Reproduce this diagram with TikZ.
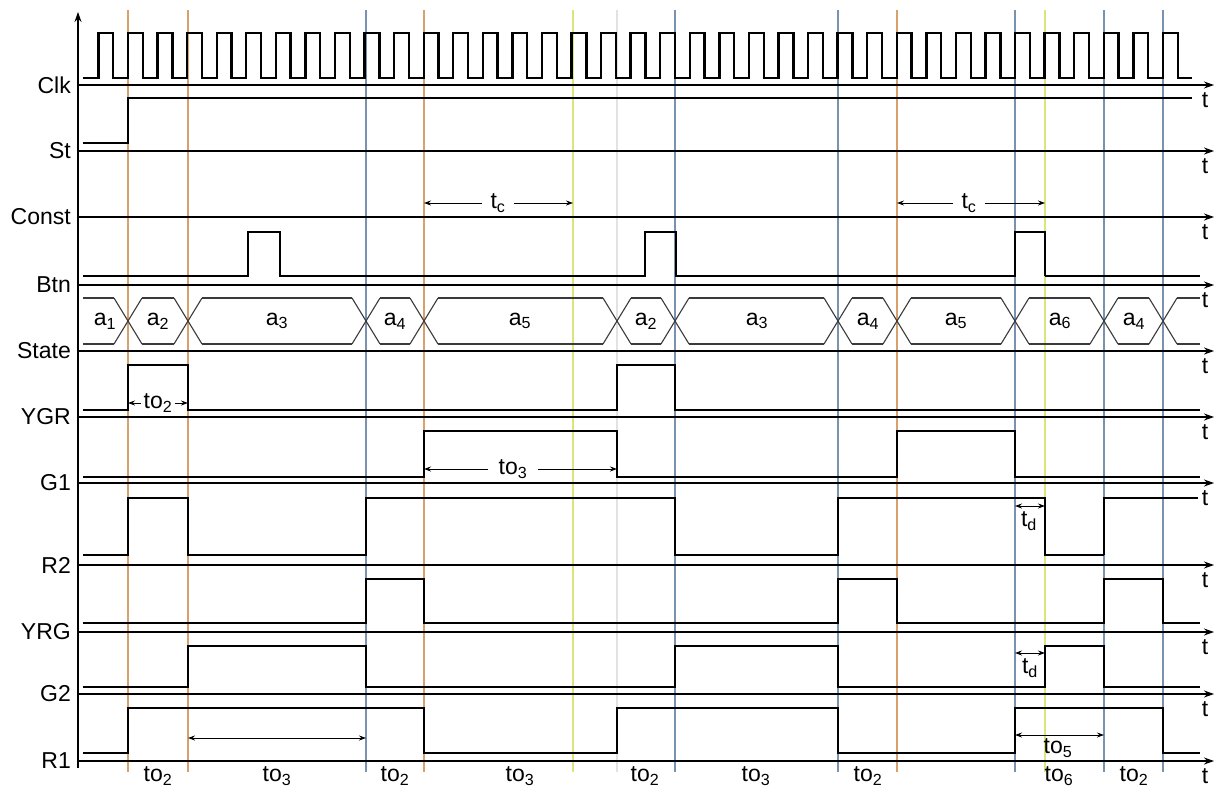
\documentclass[tikz,border=0pt]{standalone}
\usepackage{fontspec}
\setmainfont{Liberation Sans}
\usepackage{xcolor}
\usetikzlibrary{arrows.meta}
\definecolor{marktan}{HTML}{D8A06A}
\definecolor{markblue}{HTML}{7892B0}
\definecolor{markyellow}{HTML}{DCE57A}
\definecolor{markgray}{HTML}{E2E2E2}
\definecolor{busgray}{HTML}{3A3A3A}
\tikzset{
  sig/.style={line width=2.4pt, line join=miter},
  thinsig/.style={line width=1.3pt, line join=miter},
  bus/.style={busgray, line width=1.1pt},
  axis/.style={line width=1.1pt, -{Stealth[length=10pt, width=7pt]}},
  dim/.style={line width=0.9pt, -{Stealth[length=7pt, width=5pt]}},
  dimboth/.style={line width=0.9pt, {Stealth[length=7pt, width=5pt]}-{Stealth[length=7pt, width=5pt]}},
  txt/.style={font=\fontsize{23}{27}\selectfont, inner sep=0pt},
  sname/.style={txt, anchor=east},
}

\begin{document}
\begin{tikzpicture}[x=1pt, y=-1pt]
  \useasboundingbox (0,0) rectangle (1224,787);
  % time markers
  \foreach \x/\c in {128/marktan, 188/marktan, 366/markblue, 424/marktan, 573/markyellow,
                     617/markgray, 675/markblue, 838/markblue, 897/marktan, 1015/markblue,
                     1045/markyellow, 1104/markblue, 1163/markblue}
    \draw[\c, line width=1.1pt] (\x,10) -- (\x,772);
  % axes
  \draw[axis] (78,768) -- (78,12);
  \foreach \y/\name/\id in {85/Clk/clk, 151/St/st, 217/Const/const, 285/Btn/btn, 351/State/state,
                            417/YGR/ygr, 483/G1/ga, 565/R2/rb, 632/YRG/yrg, 694/G2/gb, 761/R1/ra} {
    \draw[axis] (78,\y) -- (1214,\y);
    \node[sname] (l\id) at (71,\y) {\name};
    \node[txt] (t\id) at (1205,\y+15) {t};
  }
  % Clk
  \draw[sig] (83,78) \foreach \k in {-1,...,35} {
      -- ({128+\k*29.57},78) -- ({128+\k*29.57},33) -- ({142.8+\k*29.57},33) -- ({142.8+\k*29.57},78)
    } -- (1192,78);
  % St
  \draw[sig] (83,143) -- (128,143) -- (128,98) -- (1192,98);
  % Const
  \coordinate (tca) at (424,203);
  \coordinate (tcb) at (573,203);
  \node[txt] (tc1) at (498,203) {t\textsubscript{c}};
  \draw[dim] ([xshift=-8pt]tc1.west) -- (tca);
  \draw[dim] ([xshift=8pt]tc1.east) -- (tcb);
  \coordinate (tcc) at (897,203);
  \coordinate (tcd) at (1045,203);
  \node[txt] (tc2) at (969,203) {t\textsubscript{c}};
  \draw[dim] ([xshift=-8pt]tc2.west) -- (tcc);
  \draw[dim] ([xshift=8pt]tc2.east) -- (tcd);
  % Btn
  \draw[thinsig] (83,276) -- (248,276) -- (248,232) -- (280,232) -- (280,276) -- (645,276)
    -- (645,232) -- (676,232) -- (676,276) -- (1015,276) -- (1015,232) -- (1045,232) -- (1045,276);
  \draw[sig] (280,276) -- (373,276);
  \draw[sig] (1045,276) -- (1200,276);
  % State
  \foreach \t in {128,188,366,424,617,675,838,897,1015,1104,1163}
    \draw[bus] (\t-14,298) -- (\t+14,344) (\t-14,344) -- (\t+14,298);
  \draw[bus] (83,298) -- (114,298) (83,344) -- (114,344);
  \draw[bus] (1177,298) -- (1200,298) (1177,344) -- (1200,344);
  \foreach \a/\b/\s in {128/188/2, 188/366/3, 366/424/4, 424/617/5, 617/675/2,
                        675/838/3, 838/897/4, 897/1015/5, 1015/1104/6, 1104/1163/4}
    \draw[bus] (\a+14,298) -- (\b-14,298) (\a+14,344) -- (\b-14,344);
  \foreach \x/\s/\id in {105/1/sa, 158/2/sb, 277/3/sc, 395/4/sd, 520/5/se, 646/2/sf,
                         757/3/sg, 868/4/sh, 956/5/si, 1060/6/sj, 1134/4/sk}
    \node[txt] (\id) at (\x,321) {a\textsubscript{\s}};
  % YGR
  \draw[sig] (83,410) -- (128,410) -- (128,365) -- (188,365) -- (188,410) -- (617,410)
    -- (617,365) -- (675,365) -- (675,410) -- (1200,410);
  \coordinate (yga) at (128,403);
  \coordinate (ygb) at (188,403);
  \node[txt] (to2y) at (158,403) {to\textsubscript{2}};
  \draw[dim] ([xshift=-2pt]to2y.west) -- (yga);
  \draw[dim] ([xshift=2pt]to2y.east) -- (ygb);
  % G1
  \draw[sig] (83,477) -- (424,477) -- (424,431) -- (617,431) -- (617,477) -- (897,477)
    -- (897,431) -- (1015,431) -- (1015,477) -- (1200,477);
  \coordinate (gaa) at (424,469);
  \coordinate (gab) at (617,469);
  \node[txt] (to3g) at (513,469) {to\textsubscript{3}};
  \draw[dim] ([xshift=-10pt]to3g.west) -- (gaa);
  \draw[dim] ([xshift=10pt]to3g.east) -- (gab);
  % R2
  \draw[sig] (83,555) -- (128,555) -- (128,498) -- (188,498) -- (188,555) -- (366,555)
    -- (366,498) -- (675,498) -- (675,555) -- (838,555) -- (838,498) -- (1045,498)
    -- (1045,555) -- (1104,555);
  \draw[thinsig] (1104,555) -- (1104,498) -- (1198,498);
  \coordinate (rba) at (1015,506);
  \coordinate (rbb) at (1045,506);
  \draw[dimboth] (rba) -- (rbb);
  \node[txt] (tdr) at (1029,521) {t\textsubscript{d}};
  % YRG
  \draw[sig] (83,623) -- (366,623) -- (366,579) -- (424,579) -- (424,623) -- (838,623)
    -- (838,579) -- (897,579) -- (897,623) -- (1104,623) -- (1104,579) -- (1163,579)
    -- (1163,623) -- (1200,623);
  % G2
  \draw[sig] (83,687) -- (188,687) -- (188,646) -- (366,646) -- (366,687) -- (675,687)
    -- (675,646) -- (838,646) -- (838,687) -- (1045,687) -- (1045,646) -- (1104,646)
    -- (1104,687) -- (1200,687);
  \coordinate (gba) at (1015,653);
  \coordinate (gbb) at (1045,653);
  \draw[dimboth] (gba) -- (gbb);
  \node[txt] (tdg) at (1030,668) {t\textsubscript{d}};
  % R1
  \draw[sig] (83,753) -- (128,753) -- (128,708) -- (424,708) -- (424,753) -- (617,753)
    -- (617,708) -- (838,708) -- (838,753) -- (1015,753) -- (1015,708) -- (1163,708)
    -- (1163,753) -- (1200,753);
  \coordinate (raa) at (188,738);
  \coordinate (rab) at (366,738);
  \draw[dimboth] (raa) -- (rab);
  \coordinate (rac) at (1015,735);
  \coordinate (rad) at (1104,735);
  \draw[dimboth] (rac) -- (rad);
  \node[txt] (to5) at (1058,748) {to\textsubscript{5}};
  % intervals
  \foreach \x/\s/\id in {158/2/ia, 277/3/ib, 395/2/ic, 520/3/id, 645/2/ie, 756/3/if,
                         868/2/ig, 1059/6/ih, 1134/2/ii}
    \node[txt] (\id) at (\x,776) {to\textsubscript{\s}};
\end{tikzpicture}
\end{document}
